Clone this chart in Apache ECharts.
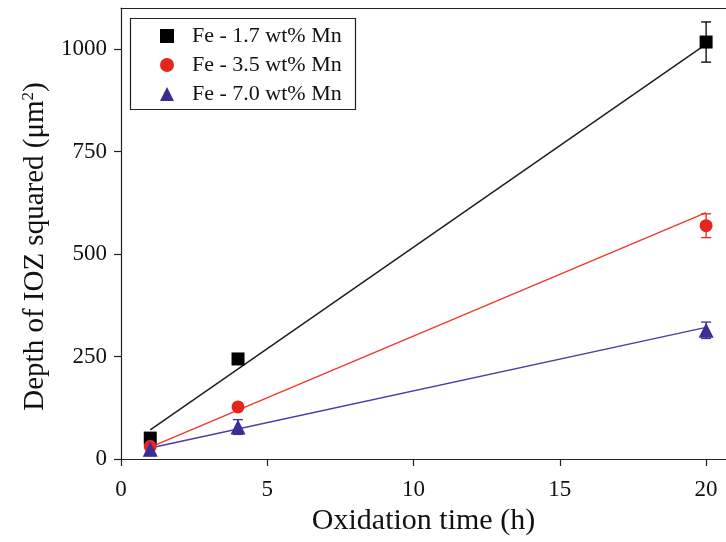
<!DOCTYPE html>
<html>
<head>
<meta charset="utf-8">
<script src="https://cdn.jsdelivr.net/npm/echarts@6/dist/echarts.min.js"></script>
<style>html,body{margin:0;padding:0;background:#fff}#c{width:726px;height:542px}</style>
</head>
<body>
<div id="c"></div>
<script>
// ---- data ----
const times = [1, 4, 20];
const seriesNames = ['Fe - 1.7 wt% Mn', 'Fe - 3.5 wt% Mn', 'Fe - 7.0 wt% Mn'];
const mn17 = [51, 244, 1017];
const mn35 = [31, 127, 569];
const mn70 = [24, 78, 314];
const err17 = [6, 8, 49];
const err35 = [5, 7, 29];
const err70 = [16, 18, 20];
// linear fit endpoints (value at t = 1 h and t = 20 h)
const fitTimes = [1, 20];
const fit17 = [71, 1012];
const fit35 = [29, 601];
const fit70 = [27, 321];
const xTicks = [0, 5, 10, 15, 20];
const yTicks = [0, 250, 500, 750, 1000];

const colors = ['#000000', '#e5261f', '#3a2d96'];
const lineColors = ['#1e1e1e', '#ef3b2f', '#4b3ca8'];
const symbols = ['rect', 'circle', 'triangle'];
const values = [mn17, mn35, mn70];
const errs = [err17, err35, err70];
const fits = [fit17, fit35, fit70];
const FONT = '"Liberation Serif", "DejaVu Serif", serif';

const series = [];
for (let i = 0; i < 3; i++) {
  series.push({
    name: 'fit' + i, type: 'line', silent: true, symbol: 'none',
    data: fitTimes.map((t, k) => [t, fits[i][k]]),
    lineStyle: { color: lineColors[i], width: 1.5 }, z: 2
  });
  series.push({
    name: 'err' + i, type: 'custom', silent: true,
    data: times.map((t, k) => [t, values[i][k] - errs[i][k], values[i][k] + errs[i][k]]),
    renderItem: function (params, api) {
      const x = api.value(0);
      const lo = api.coord([x, api.value(1)]);
      const hi = api.coord([x, api.value(2)]);
      const w = 5;
      const st = { stroke: colors[i], lineWidth: 1.3 };
      return { type: 'group', children: [
        { type: 'line', shape: { x1: lo[0], y1: lo[1], x2: hi[0], y2: hi[1] }, style: st },
        { type: 'line', shape: { x1: lo[0] - w, y1: lo[1], x2: lo[0] + w, y2: lo[1] }, style: st },
        { type: 'line', shape: { x1: hi[0] - w, y1: hi[1], x2: hi[0] + w, y2: hi[1] }, style: st }
      ]};
    },
    z: 3
  });
  series.push({
    name: seriesNames[i], type: 'scatter', symbol: symbols[i],
    symbolSize: i === 2 ? 15 : 13,
    data: times.map((t, k) => [t, values[i][k]]),
    itemStyle: { color: colors[i], opacity: 1 }, z: 4
  });
}

const axisLineStyle = { color: '#222', width: 1.2 };
const chart = echarts.init(document.getElementById('c'), null, { renderer: 'canvas' });
chart.setOption({
  animation: false,
  backgroundColor: '#fff',
  textStyle: { fontFamily: FONT },
  grid: { left: 121, right: 0, top: 8, bottom: 83, show: false, containLabel: false },
  xAxis: [{
    type: 'value', min: 0, max: 20.68,
    name: 'Oxidation time (h)', nameLocation: 'middle', nameGap: 46,
    nameTextStyle: { fontSize: 30, color: '#111', fontFamily: FONT },
    axisLine: { show: true, lineStyle: axisLineStyle },
    axisTick: { show: true, length: 7, inside: false, customValues: xTicks, lineStyle: axisLineStyle },
    axisLabel: { customValues: xTicks, fontSize: 23, color: '#111', margin: 19, fontFamily: FONT,
      formatter: v => String(v) },
    splitLine: { show: false }
  }, {
    type: 'value', position: 'top', min: 0, max: 20.68,
    axisLine: { show: true, onZero: false, lineStyle: axisLineStyle },
    axisTick: { show: false }, axisLabel: { show: false }, splitLine: { show: false }
  }],
  yAxis: {
    type: 'value', min: 0, max: 1100,
    name: 'Depth of IOZ squared (μm{sup|2})', nameLocation: 'middle', nameGap: 70,
    nameTextStyle: { fontSize: 29, color: '#111', fontFamily: FONT, padding: [0, 26, 0, 0],
      rich: { sup: { fontSize: 17, fontFamily: FONT, color: '#111', padding: [0, 0, 14, 0] } } },
    axisLine: { show: true, lineStyle: axisLineStyle },
    axisTick: { show: true, length: 7, inside: false, customValues: yTicks, lineStyle: axisLineStyle },
    axisLabel: { customValues: yTicks, fontSize: 23, color: '#111', margin: 14, fontFamily: FONT,
      formatter: v => String(v) },
    splitLine: { show: false }
  },
  legend: {
    data: seriesNames, orient: 'vertical', left: 160, top: 25,
    itemWidth: 14, itemHeight: 14, itemGap: 7, padding: 0,
    textStyle: { fontSize: 22, color: '#111', fontFamily: FONT, lineHeight: 20, padding: [0, 0, 0, 13] },
    selectedMode: false
  },
  graphic: [{ type: 'rect', left: 128, top: 16, shape: { width: 225, height: 91 },
    style: { fill: 'none', stroke: '#222', lineWidth: 1.2 }, z: 100 }],
  series: series
});
</script>
</body>
</html>
